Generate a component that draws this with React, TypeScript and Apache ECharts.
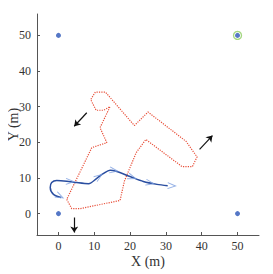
import React, { useEffect, useRef } from "react";
import * as echarts from "echarts";

const xTicks = [0, 10, 20, 30, 40, 50];
const yTicks = [0, 10, 20, 30, 40, 50];

const anchorsX = [0, 0, 50, 50];
const anchorsY = [50, 0, 0, 50];

const highlightedAnchor = [50, 50];

const redX = [2.3, 3.7, 6.1, 17.2, 18.4, 21.7, 24.4, 34.5, 37.4, 38.7, 35.6, 25.0, 21.2, 13.1, 10.3, 9.0, 10.5, 12.6, 14.4, 11.6, 13.5, 9.3, 2.3];
const redY = [4.0, 1.4, 1.4, 3.7, 9.1, 17.1, 20.8, 13.2, 13.2, 15.9, 20.3, 28.5, 24.7, 34.1, 34.1, 32.0, 29.0, 29.0, 30.0, 24.1, 19.9, 18.5, 4.0];

const blueX = [0.75, -1.4, -2.3, -1.9, -0.5, 2.3, 5.1, 8.4, 10.7, 12.6, 14.4, 16.3, 20.0, 23.7, 27.5, 30.5];
const blueY = [4.5, 5.4, 7.3, 8.7, 9.3, 9.1, 8.7, 8.4, 9.9, 11.3, 12.2, 11.8, 10.4, 9.0, 8.2, 7.85];

// chevron markers along the blue path: position and heading point
const chevX = [0.3, 3.2, 11.2, 15.4, 20.5, 25.5, 31.6];
const chevY = [4.9, 9.0, 10.3, 12.1, 10.2, 8.6, 7.8];
const chevDX = [1.2, 1.0, 1.0, 1.0, 1.0, 1.0, 1.0];
const chevDY = [-0.6, -0.05, 0.7, -0.15, -0.35, -0.2, -0.05];

const arrowsFrom = [[4.4, -1.1], [7.9, 28.3], [39.4, 18.0]];
const arrowsTo = [[4.4, -5.3], [4.4, 24.5], [43.0, 21.9]];

export default function App() {
  const ref = useRef<HTMLDivElement>(null);
  useEffect(() => {
    if (!ref.current) return;
    const chart = echarts.init(ref.current, null, { renderer: "svg" });
    const font = "Liberation Serif";
    const axisCommon = {
      type: "value",
      min: -6,
      max: 56,
      splitLine: { show: false },
      nameMoveOverlap: false,
      axisLine: { show: true, onZero: false, lineStyle: { color: "#555", width: 1 } },
      nameTextStyle: { fontFamily: font, fontSize: 14, color: "#333" },
    };
    chart.setOption({
      animation: false,
      backgroundColor: "#fff",
      grid: { left: 37, right: 14, top: 14, bottom: 39, containLabel: false, outerBoundsMode: "none" },
      xAxis: {
        ...axisCommon,
        name: "X (m)",
        nameLocation: "middle",
        nameGap: 19,
        axisTick: { inside: true, length: 3, customValues: xTicks, lineStyle: { color: "#555" } },
        axisLabel: { customValues: xTicks, fontFamily: font, fontSize: 12, color: "#333", margin: 5 },
      },
      yAxis: {
        ...axisCommon,
        name: "Y (m)",
        nameLocation: "middle",
        nameGap: 17,
        axisTick: { inside: true, length: 3, customValues: yTicks, lineStyle: { color: "#555" } },
        axisLabel: { customValues: yTicks, fontFamily: font, fontSize: 12, color: "#333", margin: 6 },
      },
      series: [
        {
          type: "line",
          data: redX.map((x, i) => [x, redY[i]]),
          showSymbol: false,
          lineStyle: { color: "#e8503a", width: 1.2, type: [1.2, 1.2] },
          z: 2,
        },
        {
          type: "line",
          data: blueX.map((x, i) => [x, blueY[i]]),
          showSymbol: false,
          smooth: 0.3,
          lineStyle: { color: "#2a4ea0", width: 1.5 },
          z: 3,
        },
        {
          type: "scatter",
          data: chevX.map((x, i) => ({
            value: [x, chevY[i]],
            symbolRotate: (Math.atan2(chevDY[i], chevDX[i]) * 180) / Math.PI,
          })),
          symbol: "path://M0,0 L10,5 L0,10",
          symbolSize: [8, 6],
          itemStyle: { color: "none", borderColor: "#7b9de0", borderWidth: 1 },
          z: 4,
        },
        {
          type: "scatter",
          data: anchorsX.map((x, i) => [x, anchorsY[i]]),
          symbolSize: 5,
          itemStyle: { color: "#2a55b8" },
          z: 5,
        },
        {
          type: "scatter",
          data: [highlightedAnchor],
          symbolSize: 8,
          itemStyle: { color: "none", borderColor: "#8ccc60", borderWidth: 1.3 },
          z: 5,
        },
        {
          type: "lines",
          coordinateSystem: "cartesian2d",
          data: arrowsFrom.map((f, i) => ({ coords: [f, arrowsTo[i]] })),
          symbol: ["none", "arrow"],
          symbolSize: 6,
          lineStyle: { color: "#111", width: 1.2, opacity: 1 },
          z: 6,
        },
      ],
    });
    return () => chart.dispose();
  }, []);
  return <div ref={ref} style={{ width: 273, height: 274, marginLeft: -8, marginTop: -8 }} />;
}
